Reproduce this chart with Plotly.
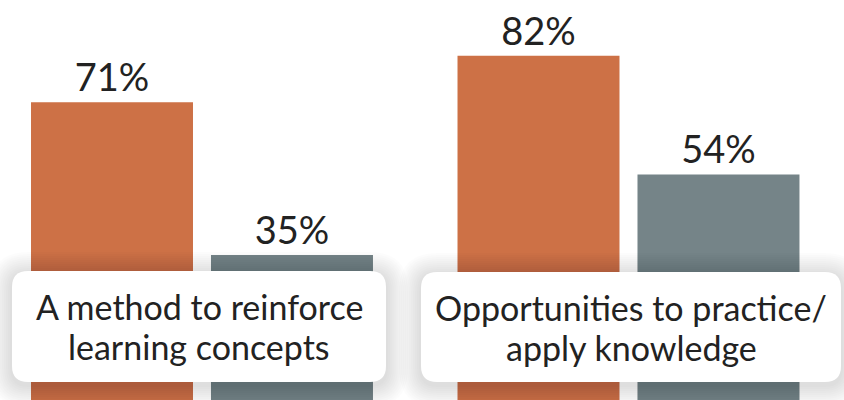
import plotly.graph_objects as go

categories = ["A method to reinforce<br>learning concepts", "Opportunities to practice/<br>apply knowledge"]
series_a = [71, 82]
series_b = [35, 54]
series_names = ["Series A", "Series B"]

ORANGE = "#CD7146"
GRAY = "#758488"
FONT = "Lato"
W, H = 844, 400

x = [0, 1]
fig = go.Figure()
fig.add_trace(go.Bar(
    x=x, y=series_a, name=series_names[0], marker=dict(color=ORANGE, line=dict(width=0)),
    text=[f"{v}%" for v in series_a], textposition="outside",
    textfont=dict(family=FONT, size=38, color="#222222"), cliponaxis=False,
))
fig.add_trace(go.Bar(
    x=x, y=series_b, name=series_names[1], marker=dict(color=GRAY, line=dict(width=0)),
    text=[f"{v}%" for v in series_b], textposition="outside",
    textfont=dict(family=FONT, size=38, color="#222222"), cliponaxis=False,
))

def rrect(x0, y0, x1, y1, r):
    # pixel coords (y from top) -> paper coords
    def P(px, py):
        return f"{px / W:.5f},{1 - py / H:.5f}"
    return (f"M{P(x0 + r, y0)} L{P(x1 - r, y0)} Q{P(x1, y0)} {P(x1, y0 + r)} "
            f"L{P(x1, y1 - r)} Q{P(x1, y1)} {P(x1 - r, y1)} L{P(x0 + r, y1)} "
            f"Q{P(x0, y1)} {P(x0, y1 - r)} L{P(x0, y0 + r)} Q{P(x0, y0)} {P(x0 + r, y0)} Z")

boxes = [(12, 271, 386, 382), (421, 272, 841, 382)]
shapes = []
N = 11
for (x0, y0, x1, y1) in boxes:
    for k in range(N, 0, -1):
        s = 2 * k
        shapes.append(dict(type="path", xref="paper", yref="paper",
                           path=rrect(x0 - s, y0 - s + 3, x1 + s, y1 + s + 3, 16 + s),
                           fillcolor="rgba(0,0,0,0.012)", line=dict(width=0), layer="above"))
for (x0, y0, x1, y1) in boxes:
    shapes.append(dict(type="path", xref="paper", yref="paper", path=rrect(x0, y0, x1, y1, 16),
                       fillcolor="white", line=dict(width=0), layer="above"))

annotations = []
LINE_GAP = 40
for (x0, y0, x1, y1), label in zip(boxes, categories):
    lines = label.split("<br>")
    cy = (y0 + y1) / 2
    for i, ln in enumerate(lines):
        yy = cy + (i - (len(lines) - 1) / 2) * LINE_GAP
        annotations.append(dict(
            x=(x0 + x1) / 2 / W, y=1 - yy / H, xref="paper", yref="paper",
            text=ln, showarrow=False, xanchor="center", yanchor="middle",
            font=dict(family=FONT, size=34, color="#222222"), align="center",
        ))

fig.update_layout(
    width=W, height=H, margin=dict(l=0, r=0, t=0, b=0),
    paper_bgcolor="white", plot_bgcolor="white",
    barmode="group", bargap=0.156, bargroupgap=0.1, showlegend=False,
    xaxis=dict(range=[-0.4736, 1.5053], visible=False, fixedrange=True),
    yaxis=dict(range=[0.80, 95.14], visible=False, fixedrange=True),
    shapes=shapes, annotations=annotations,
)
fig.write_html("out.html")
